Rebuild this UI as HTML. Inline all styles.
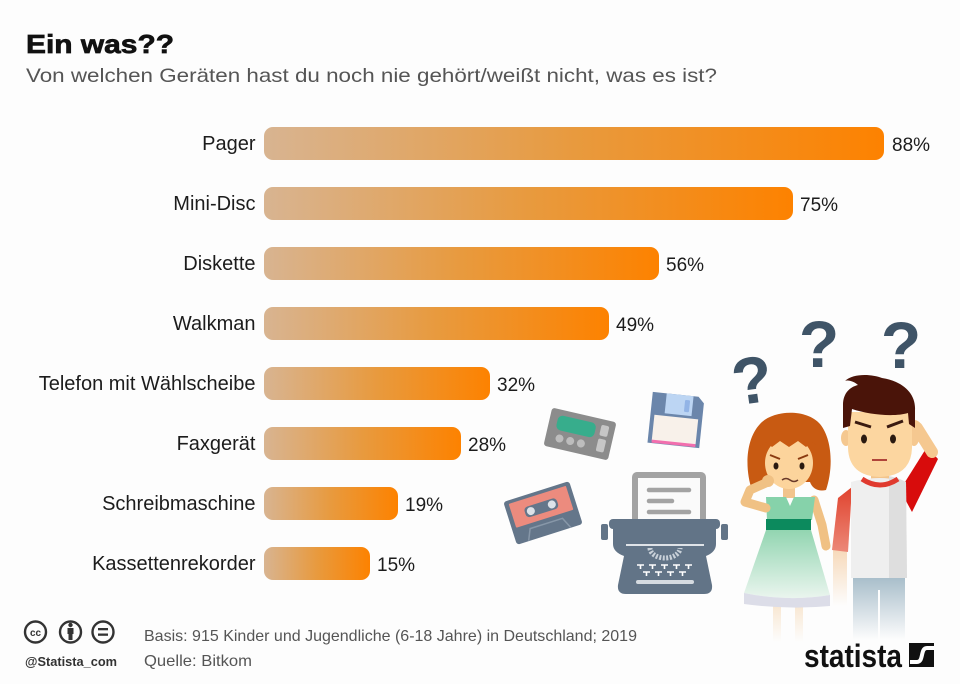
<!DOCTYPE html>
<html><head><meta charset="utf-8">
<style>
html,body{margin:0;padding:0;background:#fdfdfd;}
svg{display:block;}
text{font-family:"Liberation Sans",sans-serif;}
</style></head>
<body>
<svg width="960" height="684" viewBox="0 0 960 684" xmlns="http://www.w3.org/2000/svg">
<defs>
<linearGradient id="bar" x1="0" y1="0" x2="1" y2="0">
<stop offset="0" stop-color="#d8b491"/>
<stop offset="0.5" stop-color="#e89a3e"/>
<stop offset="1" stop-color="#fd8200"/>
</linearGradient>
<linearGradient id="skirt" x1="0" y1="0" x2="0" y2="1">
<stop offset="0" stop-color="#92d5b1"/>
<stop offset="1" stop-color="#eaf5ee"/>
</linearGradient>
<linearGradient id="pants" x1="0" y1="0" x2="0" y2="1">
<stop offset="0" stop-color="#a6bcc9"/>
<stop offset="1" stop-color="#fdfdfd"/>
</linearGradient>
<linearGradient id="legs" x1="0" y1="0" x2="0" y2="1">
<stop offset="0" stop-color="#f8e6d0"/>
<stop offset="1" stop-color="#fdfdfd"/>
</linearGradient>
<linearGradient id="sleeveL" x1="0" y1="0" x2="0" y2="1">
<stop offset="0" stop-color="#e0432e"/>
<stop offset="1" stop-color="#ec8878"/>
</linearGradient>
<linearGradient id="armL" x1="0" y1="0" x2="0" y2="1">
<stop offset="0" stop-color="#f6d8b8"/>
<stop offset="1" stop-color="#fdfdfd"/>
</linearGradient>
</defs>
<rect width="960" height="684" fill="#fdfdfd"/>

<!-- Title -->
<text x="26" y="53" font-size="26" font-weight="bold" fill="#111" stroke="#111" stroke-width="0.7" textLength="148" lengthAdjust="spacingAndGlyphs">Ein was??</text>
<text x="26" y="82" font-size="19.5" fill="#555" textLength="691" lengthAdjust="spacingAndGlyphs">Von welchen Geräten hast du noch nie gehört/weißt nicht, was es ist?</text>

<!-- Bars -->
<g fill="url(#bar)">
<rect x="264" y="127" width="620" height="33" rx="9"/>
<rect x="264" y="187" width="529" height="33" rx="9"/>
<rect x="264" y="247" width="395" height="33" rx="9"/>
<rect x="264" y="307" width="345" height="33" rx="9"/>
<rect x="264" y="367" width="226" height="33" rx="9"/>
<rect x="264" y="427" width="197" height="33" rx="9"/>
<rect x="264" y="487" width="134" height="33" rx="9"/>
<rect x="264" y="547" width="106" height="33" rx="9"/>
</g>
<g font-size="20" fill="#1c1c1c" text-anchor="end">
<text x="255.5" y="150">Pager</text>
<text x="255.5" y="210">Mini-Disc</text>
<text x="255.5" y="270">Diskette</text>
<text x="255.5" y="330">Walkman</text>
<text x="255.5" y="390">Telefon mit Wählscheibe</text>
<text x="255.5" y="450">Faxgerät</text>
<text x="255.5" y="510">Schreibmaschine</text>
<text x="255.5" y="570">Kassettenrekorder</text>
</g>
<g font-size="19" fill="#1c1c1c">
<text x="892" y="151">88%</text>
<text x="800" y="211">75%</text>
<text x="666" y="271">56%</text>
<text x="616" y="331">49%</text>
<text x="497" y="391">32%</text>
<text x="468" y="451">28%</text>
<text x="405" y="511">19%</text>
<text x="377" y="571">15%</text>
</g>

<!-- Pager -->
<g transform="translate(580,434) rotate(13)">
<rect x="-33" y="-19.5" width="66" height="39" rx="3" fill="#8c8c8c"/>
<rect x="-25" y="-14" width="39" height="15" rx="5" fill="#37ad8c"/>
<circle cx="-19" cy="9" r="4" fill="#bdbdbd"/>
<circle cx="-8" cy="9" r="4" fill="#bdbdbd"/>
<circle cx="3" cy="9" r="4" fill="#bdbdbd"/>
<rect x="19" y="-14" width="8" height="11" rx="2" fill="#c6c6c6"/>
<rect x="19" y="0" width="8" height="13" rx="2" fill="#c6c6c6"/>
</g>

<!-- Floppy -->
<g transform="translate(676,420) rotate(6)">
<path d="M-26,-25.5 L20,-25.5 L26,-19.5 L26,25.5 L-26,25.5 Z" fill="#6b86ab"/>
<rect x="-12" y="-25.5" width="27" height="20" fill="#bcd5f3"/>
<rect x="7" y="-21" width="5" height="12" rx="1" fill="#92b4e6"/>
<rect x="-22" y="-3" width="44" height="26" fill="#f8f1ea"/>
<rect x="-22" y="22" width="44" height="3" fill="#f26fae"/>
</g>

<!-- Cassette -->
<g transform="translate(543,513) rotate(-17.6)">
<rect x="-34.5" y="-22.5" width="69" height="45" rx="3" fill="#64768a"/>
<rect x="-30" y="-19" width="60" height="25" rx="1" fill="#ec8b7e"/>
<rect x="-17" y="-11" width="34" height="11" rx="4" fill="#64768a"/>
<circle cx="-11" cy="-5.5" r="4" fill="#dde2e8"/>
<circle cx="11" cy="-5.5" r="4" fill="#dde2e8"/>
<path d="M-22,22 L-17,11 L17,11 L22,22" stroke="#8797a8" stroke-width="1.5" fill="none"/>
</g>

<!-- Typewriter -->
<rect x="632" y="472" width="74" height="58" rx="5" fill="#a3a3a3"/>
<rect x="638" y="478" width="62" height="52" fill="#fafafa"/>
<g stroke="#a3a3a3" stroke-width="4.5" stroke-linecap="round">
<line x1="649" y1="490" x2="689" y2="490"/>
<line x1="649" y1="501" x2="672" y2="501"/>
<line x1="649" y1="512" x2="689" y2="512"/>
</g>
<rect x="609" y="519" width="111" height="10" rx="4" fill="#627487"/>
<rect x="601" y="524" width="7" height="16" rx="2" fill="#627487"/>
<rect x="721" y="524" width="7" height="16" rx="2" fill="#627487"/>
<path d="M613,529 L716,529 L716,544 Q716,552 706,556 L712,585 Q713,594 704,594 L626,594 Q617,594 618,585 L624,556 Q613,552 613,544 Z" fill="#627487"/>
<line x1="626" y1="545" x2="704" y2="545" stroke="#dfe3e8" stroke-width="2"/>
<path d="M650,548 A15,10 0 0 0 680,548" stroke="#c9d1d9" stroke-width="5" fill="none" stroke-dasharray="2 1.5"/>
<g stroke="#ffffff" stroke-width="1.6">
<path d="M637,565 h7 M640.5,565 v4 M649,565 h7 M652.5,565 v4 M661,565 h7 M664.5,565 v4 M673,565 h7 M676.5,565 v4 M685,565 h7 M688.5,565 v4"/>
<path d="M643,572 h7 M646.5,572 v4 M655,572 h7 M658.5,572 v4 M667,572 h7 M670.5,572 v4 M679,572 h7 M682.5,572 v4"/>
</g>
<rect x="636" y="580" width="58" height="4" rx="2" fill="#d5dbe1"/>

<!-- Question marks -->
<g font-size="66" font-weight="bold" fill="#3f5467" text-anchor="middle">
<text x="752" y="403" transform="rotate(-8 752 380)">?</text>
<text x="819" y="367">?</text>
<text x="901" y="368">?</text>
</g>

<!-- Girl -->
<rect x="773" y="604" width="8" height="38" fill="url(#legs)"/>
<rect x="795" y="604" width="8" height="38" fill="url(#legs)"/>
<path d="M814,500 L822,525 L826,546" stroke="#f0c184" stroke-width="9" stroke-linecap="round" stroke-linejoin="round" fill="none"/>
<path d="M752,490 C745,470 745,440 760,424 C772,410 806,408 820,424 C833,440 833,470 826,490 C818,492 812,488 810,482 L768,482 C766,488 760,492 752,490 Z" fill="#c85a12"/>
<rect x="783" y="484" width="12" height="14" fill="#f2c48c"/>
<ellipse cx="789" cy="463" rx="24" ry="26" fill="#fcd49c"/>
<path d="M760,446 C759,420 775,413 789,413 C803,413 819,420 818,446 L812,442 L806,447 L798,441 L789,447 L780,441 L772,447 L766,442 Z" fill="#c85a12"/>
<path d="M770,455 L780,459 M798,459 L808,455" stroke="#8a3a10" stroke-width="2" fill="none"/>
<ellipse cx="776" cy="466" rx="2.5" ry="3.5" fill="#2a1a10"/>
<ellipse cx="802" cy="466" rx="2.5" ry="3.5" fill="#2a1a10"/>
<path d="M782,480 q4,-3 8,0 q4,3 8,0" stroke="#6a3a2a" stroke-width="1.5" fill="none"/>
<path d="M766,497 L786,497 L790,506 L794,497 L815,497 L812,520 L767,520 Z" fill="#86d2aa"/>
<path d="M766,508 L745,502 L750,490 L768,482" stroke="#f0c184" stroke-width="9" stroke-linecap="round" stroke-linejoin="round" fill="none"/>
<circle cx="768" cy="481" r="6" fill="#f0c184"/>
<rect x="766" y="519" width="45" height="11" fill="#0c8a5d"/>
<path d="M766,530 L811,530 L830,595 Q788,602 744,593 Z" fill="url(#skirt)"/>
<path d="M744,593 Q788,602 830,595 L830,606 Q788,610 744,604 Z" fill="#dcdde8"/>

<!-- Boy -->
<rect x="853" y="576" width="52" height="64" fill="url(#pants)"/>
<line x1="879" y1="590" x2="879" y2="640" stroke="#fdfdfd" stroke-width="2"/>
<rect x="833" y="548" width="14" height="58" fill="url(#armL)"/>
<path d="M852,487 L838,498 L832,550 L848,552 Z" fill="url(#sleeveL)"/>
<path d="M900,490 L912,512 L938,459 L927,447 Z" fill="#d80c0c"/>
<path d="M932,452 L917,428" stroke="#f5c890" stroke-width="12" stroke-linecap="round"/>
<circle cx="914" cy="428" r="8" fill="#f5c890"/>
<rect x="871" y="466" width="18" height="16" fill="#f2c48c"/>
<path d="M851,482 Q880,474 906,482 L907,578 L851,578 Z" fill="#efefef"/>
<path d="M889,476 Q899,478 906,482 L907,578 L889,578 Z" fill="#dedede"/>
<path d="M862,479 Q880,491 898,479" stroke="#e03a2e" stroke-width="5" fill="none"/>
<ellipse cx="846" cy="438" rx="5" ry="8" fill="#f5c890"/>
<ellipse cx="914" cy="438" rx="5" ry="8" fill="#f5c890"/>
<path d="M848,412 L912,412 L912,448 Q911,476 880,477 Q849,476 848,448 Z" fill="#fcd6a0"/>
<path d="M843,428 L843,405 C843,393 850,387 858,385 C852,380 847,380 845,381 C853,373 872,374 882,378 C902,381 916,393 915,410 L915,428 L909,424 L908,413 C895,417 870,415 852,409 L850,426 Z" fill="#4a1409"/>
<path d="M855,422 L871,427 M887,427 L903,421" stroke="#3a1a10" stroke-width="3" fill="none"/>
<ellipse cx="864" cy="439" rx="3" ry="4.5" fill="#2a1a10"/>
<ellipse cx="893" cy="439" rx="3" ry="4.5" fill="#2a1a10"/>
<line x1="872" y1="460" x2="887" y2="460" stroke="#b0443a" stroke-width="2"/>

<!-- Footer -->
<g fill="none" stroke="#333" stroke-width="2.4">
<circle cx="35.5" cy="632" r="10.5"/>
<circle cx="70.5" cy="632" r="10.5"/>
<circle cx="103" cy="632" r="10.5"/>
</g>
<text x="35.5" y="636" font-size="10" font-weight="bold" fill="#333" text-anchor="middle">cc</text>
<circle cx="70.5" cy="625" r="2.2" fill="#333"/>
<rect x="67.5" y="628" width="6" height="6" fill="#333"/>
<rect x="68.5" y="633" width="4" height="7" fill="#333"/>
<rect x="98" y="628" width="10" height="2.3" fill="#333"/>
<rect x="98" y="633.5" width="10" height="2.3" fill="#333"/>
<text x="25" y="666" font-size="12.5" font-weight="bold" fill="#333" textLength="92" lengthAdjust="spacingAndGlyphs">@Statista_com</text>
<text x="144" y="641" font-size="16" fill="#555" textLength="493" lengthAdjust="spacingAndGlyphs">Basis: 915 Kinder und Jugendliche (6-18 Jahre) in Deutschland; 2019</text>
<text x="144" y="666" font-size="16" fill="#555" textLength="108" lengthAdjust="spacingAndGlyphs">Quelle: Bitkom</text>
<text x="804" y="667" font-size="32" font-weight="bold" fill="#111" style="font-family:'Liberation Sans Narrow','Liberation Sans',sans-serif" textLength="98" lengthAdjust="spacingAndGlyphs">statista</text>
<rect x="909" y="643" width="25" height="24" fill="#111"/>
<path d="M910,662 L917,662 C924,662 920,648 927,648 L934,648" stroke="#fff" stroke-width="4" fill="none"/>
</svg>
</body></html>
